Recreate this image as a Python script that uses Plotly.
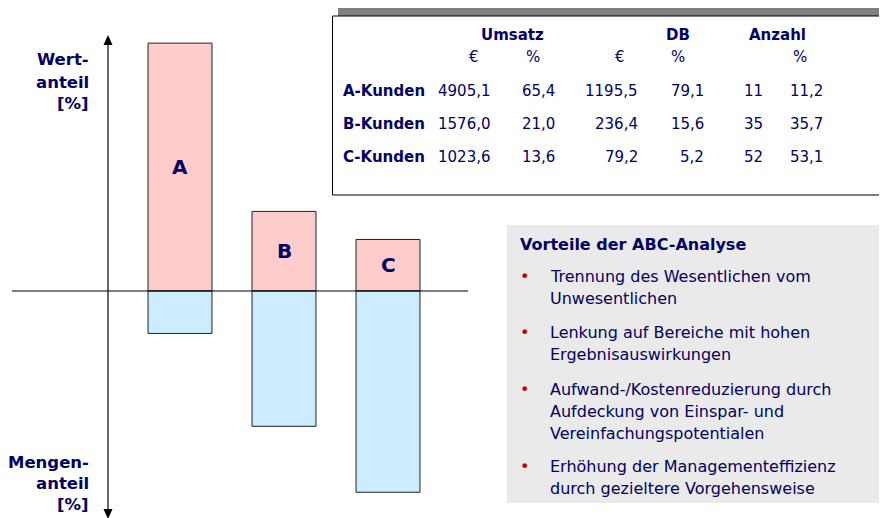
import plotly.graph_objects as go

# ---------------- data ----------------
categories = ["A", "B", "C"]
row_labels = ["A-Kunden", "B-Kunden", "C-Kunden"]
umsatz_eur = [4905.1, 1576.0, 1023.6]
umsatz_pct = [65.4, 21.0, 13.6]
db_eur = [1195.5, 236.4, 79.2]
db_pct = [79.1, 15.6, 5.2]
anzahl = [11, 35, 52]
anzahl_pct = [11.2, 35.7, 53.1]
header_groups = ["Umsatz", "DB", "Anzahl"]
header_units = ["€", "%", "€", "%", "%"]
box_title = "Vorteile der ABC-Analyse"
bullets = [
    ["Trennung des Wesentlichen vom", "Unwesentlichen"],
    ["Lenkung auf Bereiche mit hohen", "Ergebnisauswirkungen"],
    ["Aufwand-/Kostenreduzierung durch", "Aufdeckung von Einspar- und", "Vereinfachungspotentialen"],
    ["Erhöhung der Managementeffizienz", "durch gezieltere Vorgehensweise"],
]
top_axis_label = ["Wert-", "anteil", "[%]"]
bottom_axis_label = ["Mengen-", "anteil", "[%]"]

# ---------------- layout helpers ----------------
OFF = 8                      # page body margin
W, H = 887 - OFF, 518 - OFF  # figure size
NAVY = "#000066"
FONT = "DejaVu Sans"


def px(x):
    return (x - OFF) / W


def py(y):
    return 1 - (y - OFF) / H


def de(v, d=1):
    return f"{v:.{d}f}".replace(".", ",")


annotations = []


def text(x, y, s, size=15, bold=False, anchor="left", color=NAVY):
    annotations.append(dict(
        x=px(x), y=py(y), xref="paper", yref="paper", text=f"<b>{s}</b>" if bold else s,
        showarrow=False, xanchor=anchor, yanchor="middle",
        font=dict(family=FONT, size=size, color=color)))


fig = go.Figure()
fig.add_trace(go.Bar(x=list(range(len(categories))), y=umsatz_pct, width=0.615,
                     marker=dict(color="#FFCCCC", line=dict(color="#222222", width=1)),
                     hoverinfo="skip"))
fig.add_trace(go.Bar(x=list(range(len(categories))), y=[-v for v in anzahl_pct], width=0.615,
                     marker=dict(color="#CCECFF", line=dict(color="#222222", width=1)),
                     hoverinfo="skip"))

# bar letters
for i, c in enumerate(categories):
    annotations.append(dict(x=i, y=umsatz_pct[i] / 2, xref="x", yref="y", text=f"<b>{c}</b>",
                            showarrow=False, font=dict(family=FONT, size=20, color=NAVY)))

# axis labels
for s, y in zip(top_axis_label, [60, 82, 103]):
    text(91, y, s, size=16.5, bold=True, anchor="right")
for s, y in zip(bottom_axis_label, [462, 483, 504]):
    text(91, y, s, size=16.5, bold=True, anchor="right")

# table
for s, x in zip(header_groups, [512, 678, 777]):
    text(x, 35, s, size=15, bold=True, anchor="center")
for s, x in zip(header_units, [474, 533, 620, 678, 800]):
    text(x, 57, s, size=15, anchor="center")
col_right = [493, 557, 640, 706, 765, 825]
for r, (lab, y) in enumerate(zip(row_labels, [91, 124, 157])):
    text(341, y, lab, size=15, bold=True)
    vals = [de(umsatz_eur[r]), de(umsatz_pct[r]), de(db_eur[r]), de(db_pct[r]),
            str(anzahl[r]), de(anzahl_pct[r])]
    for v, x in zip(vals, col_right):
        text(x, y, v, size=15, anchor="right")

# text box
text(518, 244, box_title, size=16, bold=True)
line_y = [[276, 298], [332, 354], [389, 411, 433], [466, 488]]
for lines, ys in zip(bullets, line_y):
    text(518, ys[0], "•", size=16, color="#CC0000")
    for s, y in zip(lines, ys):
        text(548, y, s, size=16)

shapes = [
    dict(type="rect", xref="paper", yref="paper", x0=px(338), x1=px(896), y0=py(8), y1=py(188),
         fillcolor="#808080", line=dict(width=0), layer="below"),
    dict(type="rect", xref="paper", yref="paper", x0=px(332.5), x1=px(892), y0=py(16), y1=py(195),
         fillcolor="white", line=dict(color="black", width=1), layer="below"),
    dict(type="rect", xref="paper", yref="paper", x0=px(507), x1=px(892), y0=py(225), y1=py(503),
         fillcolor="#EAEAEA", line=dict(width=0), layer="below"),
    dict(type="line", xref="paper", yref="paper", x0=px(108), x1=px(108), y0=py(42), y1=py(512),
         line=dict(color="black", width=1.2)),
    dict(type="line", xref="paper", yref="y", x0=px(12), x1=px(468), y0=0, y1=0,
         line=dict(color="black", width=1.2)),
    dict(type="path", xref="paper", yref="paper",
         path=f"M {px(108)} {py(35)} L {px(103.5)} {py(45)} L {px(112.5)} {py(45)} Z",
         fillcolor="black", line=dict(width=0)),
    dict(type="path", xref="paper", yref="paper",
         path=f"M {px(108)} {py(519)} L {px(103.5)} {py(509)} L {px(112.5)} {py(509)} Z",
         fillcolor="black", line=dict(width=0)),
]

# axis scaling: bar A centre at x=180, bars 104 px apart; zero line at y=291, 3.79 px per %
xpx0, step = 180 - OFF, 104
ppu = 3.79
zero_y = 291 - OFF
fig.update_layout(
    width=W, height=H, margin=dict(l=0, r=0, t=0, b=0),
    paper_bgcolor="white", plot_bgcolor="rgba(0,0,0,0)",
    barmode="overlay", showlegend=False,
    xaxis=dict(range=[-xpx0 / step, (W - xpx0) / step], visible=False, fixedrange=True),
    yaxis=dict(range=[-(H - zero_y) / ppu, zero_y / ppu], visible=False, fixedrange=True),
    shapes=shapes, annotations=annotations,
)
fig.write_html("out.html")
